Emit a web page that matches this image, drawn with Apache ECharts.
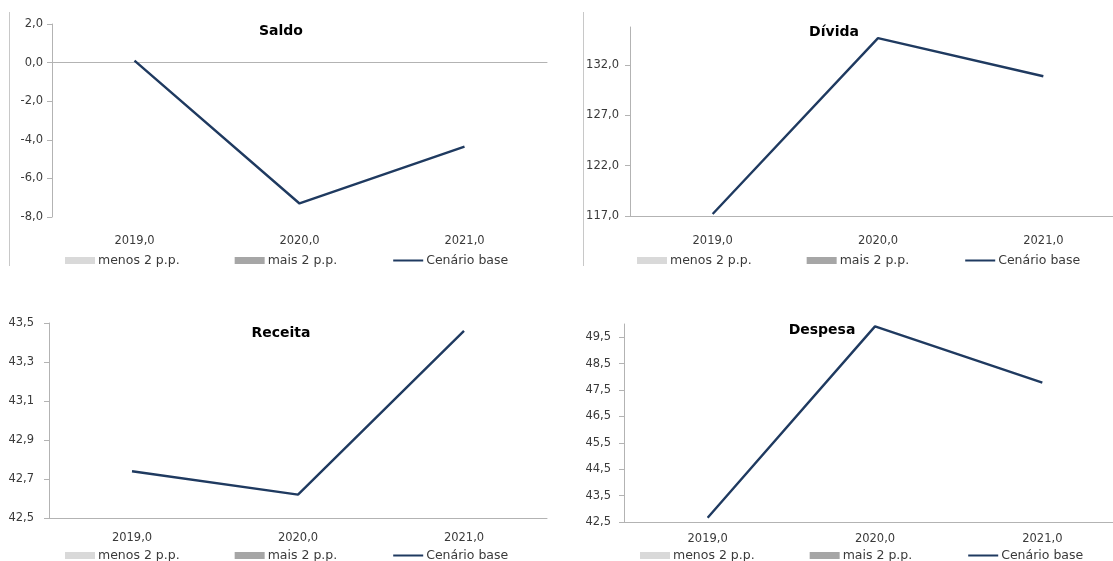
<!DOCTYPE html>
<html>
<head>
<meta charset="utf-8">
<script src="https://cdn.jsdelivr.net/npm/echarts@6/dist/echarts.min.js"></script>
<style>
  html, body { margin: 0; padding: 0; background: #fff; overflow: hidden; }
  /* a area do grafico passa um pouco da margem direita, como no original */
  #chart { width: 1140px; height: 561px; }
</style>
</head>
<body>
<div id="chart"></div>
<script>
// categorias (anos)
var anos = ['2019,0', '2020,0', '2021,0'];

// cenario base por painel
var saldoBase = [0.1, -7.3, -4.35];
var dividaBase = [117.2, 134.7, 130.9];
var receitaBase = [42.74, 42.62, 43.46];
var despesaBase = [42.66, 49.91, 47.78];

// cenarios de sensibilidade (sem valores visiveis no grafico)
var menos2pp = [];
var mais2pp = [];

// marcas dos eixos y
var saldoTicks = [-8, -6, -4, -2, 0, 2];
var dividaTicks = [117, 122, 127, 132];
var receitaTicks = [42.5, 42.7, 42.9, 43.1, 43.3, 43.5];
var despesaTicks = [42.5, 43.5, 44.5, 45.5, 46.5, 47.5, 48.5, 49.5];

var chartDom = document.getElementById('chart');
var myChart = echarts.init(chartDom);

var FONT = 'DejaVu Sans';
var TXT = '#3a3a3a';
var AXIS = '#b3b3b3';
var NAVY = '#1f3a60';

function fmt(v) {
  return (Math.round(v * 10) / 10).toFixed(1).replace('.', ',');
}

var panels = [
  { titulo: 'Saldo', base: saldoBase, ticks: saldoTicks, min: -8, max: 2,
    grid: { left: 52, top: 24, width: 495, height: 193 }, labelMargin: 18, yMargin: 9, zeroLine: true,
    tx: 281, ty: 31, legendLeft: 65, legendTop: 254 },
  { titulo: 'Dívida', base: dividaBase, ticks: dividaTicks, min: 117, max: 135.8,
    grid: { left: 630, top: 27, width: 496, height: 189 }, labelMargin: 19, yMargin: 11,
    tx: 834, ty: 32, legendLeft: 637, legendTop: 254 },
  { titulo: 'Receita', base: receitaBase, ticks: receitaTicks, min: 42.5, max: 43.5,
    grid: { left: 49, top: 323, width: 498, height: 195 }, labelMargin: 14, yMargin: 15,
    tx: 281, ty: 333, legendLeft: 65, legendTop: 549 },
  { titulo: 'Despesa', base: despesaBase, ticks: despesaTicks, min: 42.5, max: 50,
    grid: { left: 624, top: 324, width: 502, height: 198 }, labelMargin: 11, yMargin: 13,
    tx: 822, ty: 330, legendLeft: 640, legendTop: 549 }
];

var grids = [], xAxes = [], yAxes = [], series = [], legends = [], graphics = [];

panels.forEach(function (p, i) {
  grids.push(Object.assign({ containLabel: false }, p.grid));

  var xIdx = xAxes.length;
  xAxes.push({
    type: 'category', gridIndex: i, data: anos, boundaryGap: true,
    axisLine: { show: !p.zeroLine, onZero: false, lineStyle: { color: AXIS, width: 1 } },
    axisTick: { show: false },
    axisLabel: { margin: p.labelMargin, color: TXT, fontFamily: FONT, fontSize: 11.5 }
  });
  if (p.zeroLine) {
    // linha do eixo em zero (rotulos ficam em baixo)
    xAxes.push({
      type: 'category', gridIndex: i, data: anos, position: 'bottom',
      axisLine: { show: true, onZero: true, lineStyle: { color: AXIS, width: 1 } },
      axisTick: { show: false }, axisLabel: { show: false }
    });
  }

  yAxes.push({
    type: 'value', gridIndex: i, min: p.min, max: p.max,
    splitLine: { show: false },
    axisLine: { show: true, lineStyle: { color: AXIS, width: 1 } },
    axisTick: { show: true, length: 5, customValues: p.ticks, lineStyle: { color: AXIS } },
    axisLabel: { margin: p.yMargin, color: TXT, fontFamily: FONT, fontSize: 11.5,
      customValues: p.ticks, formatter: fmt }
  });

  series.push({
    name: 'menos 2 p.p.', type: 'bar', xAxisIndex: xIdx, yAxisIndex: i,
    itemStyle: { color: '#d9d9d9' }, data: menos2pp
  });
  series.push({
    name: 'mais 2 p.p.', type: 'bar', xAxisIndex: xIdx, yAxisIndex: i,
    itemStyle: { color: '#a6a6a6' }, data: mais2pp
  });
  series.push({
    name: 'Cenário base', type: 'line', xAxisIndex: xIdx, yAxisIndex: i,
    symbol: 'none', silent: true,
    lineStyle: { color: NAVY, width: 2.4 }, itemStyle: { color: NAVY },
    data: p.base
  });

  legends.push({
    left: p.legendLeft, top: p.legendTop, padding: 0,
    itemWidth: 30, itemHeight: 7, itemGap: 55,
    selectedMode: false,
    textStyle: { color: TXT, fontFamily: FONT, fontSize: 12.5, padding: [0, 0, 0, -2] },
    data: [
      { name: 'menos 2 p.p.', icon: 'rect' },
      { name: 'mais 2 p.p.', icon: 'rect' },
      { name: 'Cenário base', itemStyle: { opacity: 0 } }
    ]
  });

  graphics.push({
    type: 'text', x: p.tx, y: p.ty, z: 10,
    style: { text: p.titulo, fill: '#000', font: 'bold 14px "DejaVu Sans"',
      textAlign: 'center', textVerticalAlign: 'middle' }
  });
});

// bordas esquerdas dos graficos de cima
graphics.push({ type: 'line', shape: { x1: 9.5, y1: 12, x2: 9.5, y2: 266 },
  style: { stroke: '#c8c8c8', lineWidth: 1 } });
graphics.push({ type: 'line', shape: { x1: 583.5, y1: 12, x2: 583.5, y2: 266 },
  style: { stroke: '#c8c8c8', lineWidth: 1 } });

var option = {
  animation: false,
  backgroundColor: '#ffffff',
  grid: grids,
  xAxis: xAxes,
  yAxis: yAxes,
  legend: legends,
  series: series,
  graphic: graphics
};

myChart.setOption(option);

window.addEventListener('resize', function () {
  myChart.resize();
});
</script>
</body>
</html>
